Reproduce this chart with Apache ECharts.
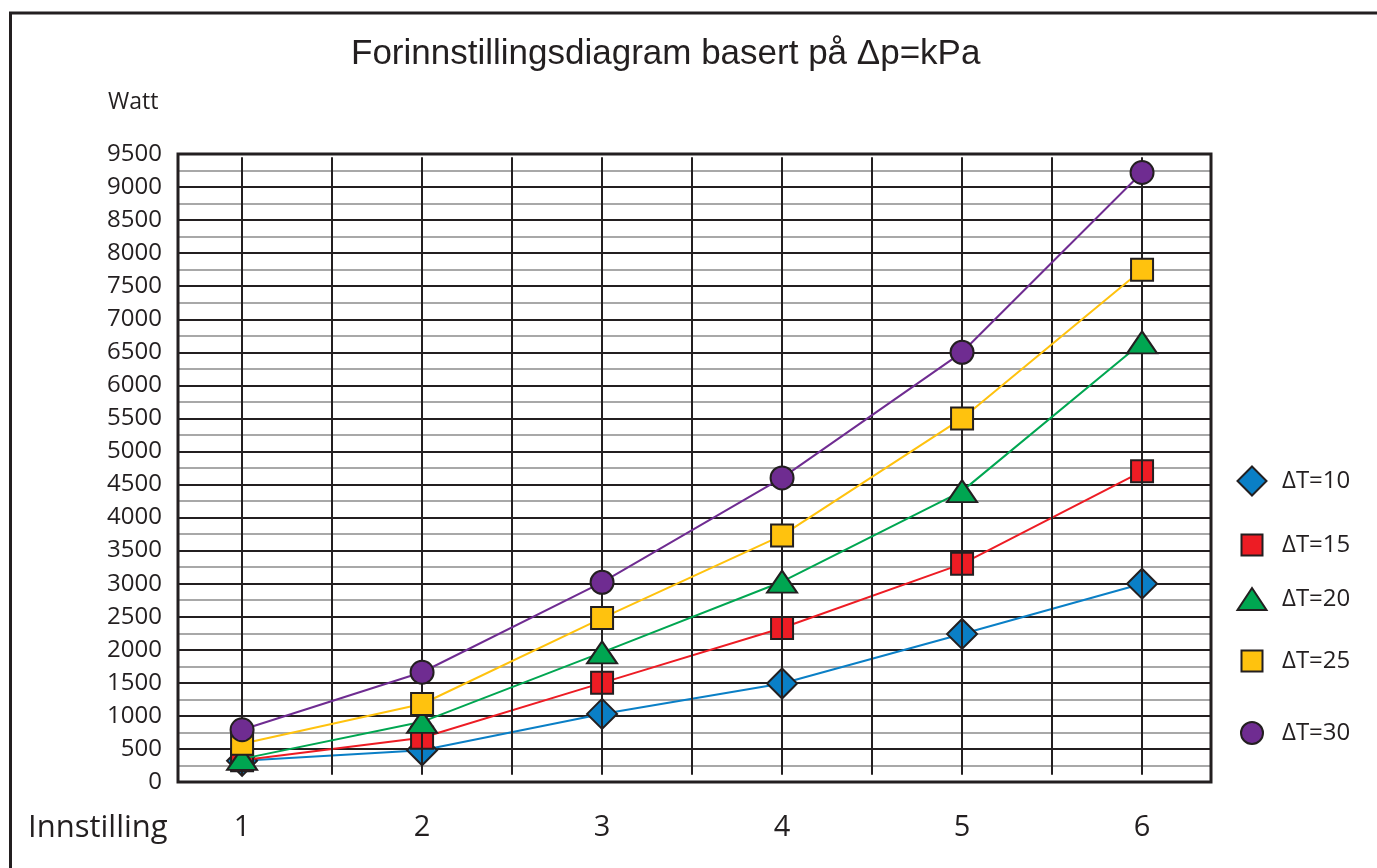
<!DOCTYPE html>
<html>
<head>
<meta charset="utf-8">
<script src="https://cdn.jsdelivr.net/npm/echarts@6/dist/echarts.min.js"></script>
<style>html,body{margin:0;padding:0;background:#fff}#c{width:1377px;height:868px}</style>
</head>
<body>
<div id="c"></div>
<script>
// ---- data ----
const settings = [1, 2, 3, 4, 5, 6];
const vGridValues = [1, 1.5, 2, 2.5, 3, 3.5, 4, 4.5, 5, 5.5, 6];
const seriesNames = ['ΔT=10', 'ΔT=15', 'ΔT=20', 'ΔT=25', 'ΔT=30'];
const dT10 = [320, 480, 1030, 1490, 2240, 3000];
const dT15 = [330, 670, 1500, 2330, 3300, 4700];
const dT20 = [350, 910, 1960, 3030, 4400, 6650];
const dT25 = [580, 1180, 2480, 3730, 5500, 7750];
const dT30 = [790, 1660, 3020, 4600, 6500, 9220];
const yMax = 9500, yStep = 500;

// ---- styles ----
const ink = '#231f20';
const colors = ['#0a7fc6', '#ed1c24', '#00a651', '#ffc20e', '#6f2c91'];
const symbols = ['diamond', 'rect', 'triangle', 'rect', 'circle'];
const symbolSizes = [[30, 30], 22, [30, 22], 22, 23];
const legendIcon = [[29, 29], [21, 21], [29, 22], [21, 21], [22, 22]];
const legendTop = [460.5, 528, 582, 644, 716];
const allData = [dT10, dT15, dT20, dT25, dT30];
const textFont = 'Open Sans';

const series = allData.map((vals, i) => ({
  name: seriesNames[i],
  type: 'line',
  data: settings.map((s, k) => [s, vals[k]]),
  symbol: symbols[i],
  symbolSize: symbolSizes[i],
  lineStyle: { color: colors[i], width: 2 },
  itemStyle: { color: colors[i], borderColor: ink, borderWidth: 2 },
  z: 3 + i,
  animation: false
}));

series.unshift({
  type: 'line',
  data: [],
  silent: true,
  z: 1,
  markLine: {
    silent: true,
    symbol: 'none',
    label: { show: false },
    animation: false,
    lineStyle: { color: ink, width: 2, type: 'solid' },
    emphasis: { disabled: true },
    data: vGridValues.map(v => [{ coord: [v, 9450] }, { coord: [v, 110] }])
  }
});

const legends = seriesNames.map((n, i) => {
  const w = legendIcon[i][0], h = legendIcon[i][1];
  const left = 1246 - w / 2;
  return {
    data: [{ name: n, icon: symbols[i] }],
    left: left,
    top: legendTop[i],
    orient: 'vertical',
    itemWidth: w,
    itemHeight: h,
    selectedMode: false,
    textStyle: { fontSize: 24, fontFamily: textFont, color: ink, padding: [0, 0, 0, 1276 - (left + w + 5)] }
  };
});

const chart = echarts.init(document.getElementById('c'), null, { renderer: 'canvas' });
chart.setOption({
  animation: false,
  backgroundColor: '#fff',
  title: {
    text: 'Forinnstillingsdiagram basert på Δp=kPa',
    left: 346,
    top: 32,
    textStyle: { fontFamily: 'Liberation Sans', fontSize: 35, fontWeight: 'normal', color: ink }
  },
  legend: legends,
  grid: {
    left: 178, right: 166, top: 154, bottom: 86,
    show: true, borderColor: ink, borderWidth: 3, backgroundColor: 'transparent', z: 10
  },
  xAxis: {
    type: 'value',
    min: 0.644, max: 6.383,
    axisLine: { show: false },
    axisTick: { show: false },
    splitLine: { show: false },
    axisLabel: {
      customValues: settings,
      fontSize: 29, fontFamily: textFont, color: ink, margin: 31
    }
  },
  yAxis: {
    type: 'value',
    min: 0, max: yMax, interval: yStep,
    axisLine: { show: false },
    axisTick: { show: false },
    axisLabel: { fontSize: 24, fontFamily: textFont, color: ink, margin: 16, formatter: v => String(v) },
    splitLine: { show: true, lineStyle: { color: ink, width: 2 } },
    minorTick: { show: false, splitNumber: 2 },
    minorSplitLine: { show: true, lineStyle: { color: '#8c8c8c', width: 1.5 } }
  },
  graphic: [
    { type: 'polyline', shape: { points: [[10.5, 868], [10.5, 13], [1377, 13]] }, style: { stroke: ink, lineWidth: 3, fill: null }, silent: true },
    { type: 'text', x: 28, y: 828, style: { text: 'Innstilling', font: '31px "Open Sans"', fill: ink, verticalAlign: 'middle', textVerticalAlign: 'middle' }, silent: true },
    { type: 'text', x: 108, y: 102, style: { text: 'Watt', font: '23px "Open Sans"', fill: ink, verticalAlign: 'middle', textVerticalAlign: 'middle' }, silent: true }
  ],
  series: series
});
</script>
</body>
</html>
